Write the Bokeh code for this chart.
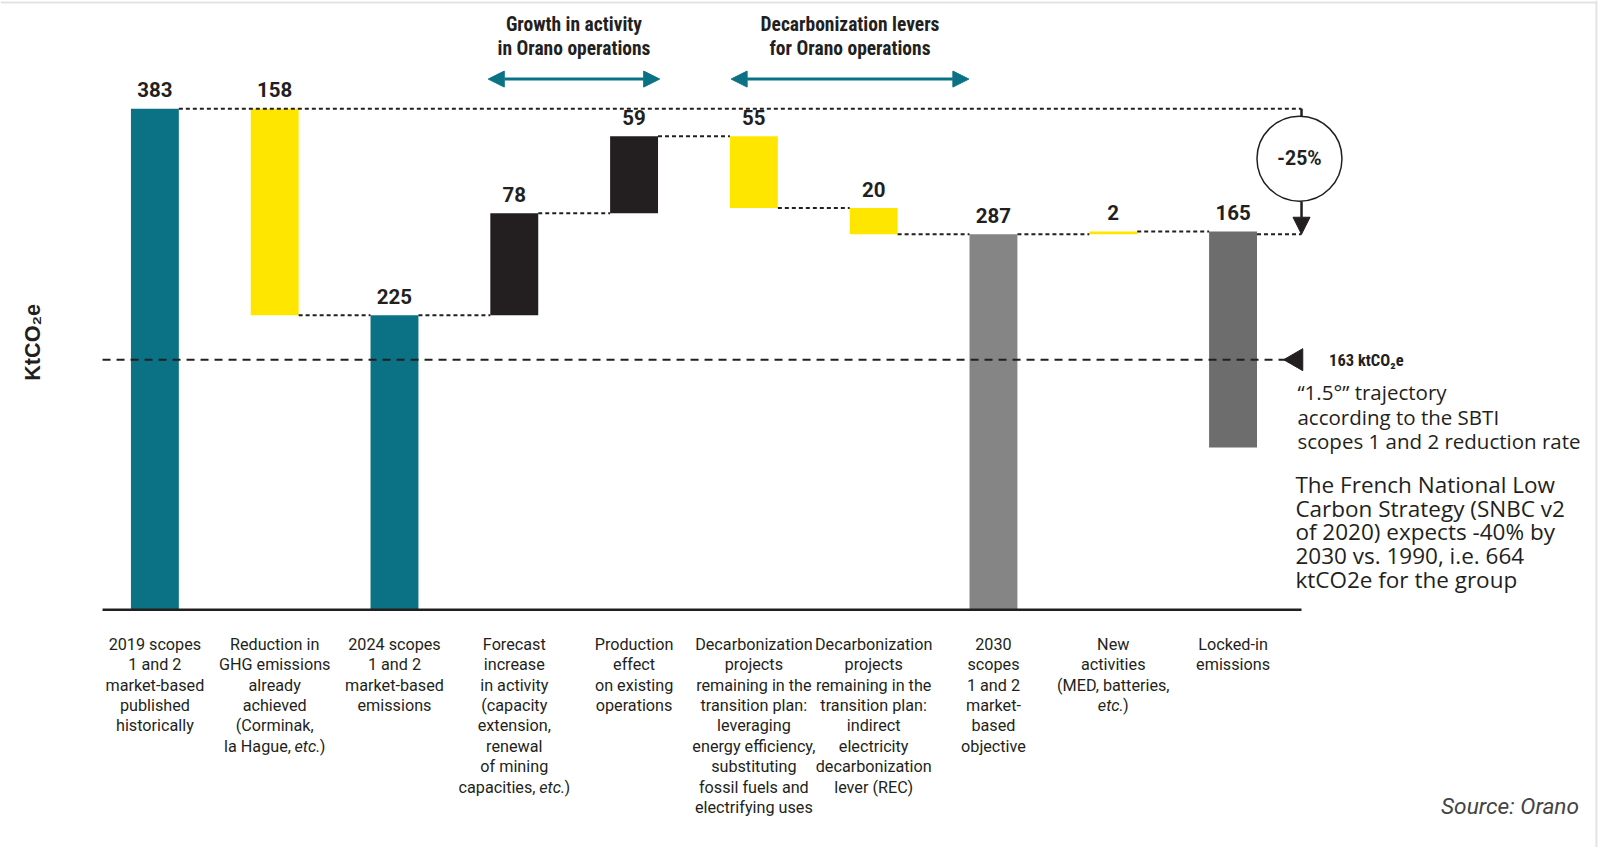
from bokeh.plotting import figure
from bokeh.models import Range1d, Arrow, NormalHead, ColumnDataSource
from bokeh.core.properties import value
from bokeh.embed import file_html
from bokeh.resources import INLINE
import math

# ---------------- data ----------------
categories = [
    "2019 scopes\n1 and 2\nmarket-based\npublished\nhistorically",
    "Reduction in\nGHG emissions\nalready\nachieved\n(Corminak,\nla Hague, etc.)",
    "2024 scopes\n1 and 2\nmarket-based\nemissions",
    "Forecast\nincrease\nin activity\n(capacity\nextension,\nrenewal\nof mining\ncapacities, etc.)",
    "Production\neffect\non existing\noperations",
    "Decarbonization\nprojects\nremaining in the\ntransition plan:\nleveraging\nenergy efficiency,\nsubstituting\nfossil fuels and\nelectrifying uses",
    "Decarbonization\nprojects\nremaining in the\ntransition plan:\nindirect\nelectricity\ndecarbonization\nlever (REC)",
    "2030\nscopes\n1 and 2\nmarket-\nbased\nobjective",
    "New\nactivities\n(MED, batteries,\netc.)",
    "Locked-in\nemissions",
]
values = [383, -158, 225, 78, 59, -55, -20, 287, 2, 165]
kinds = ["total", "delta", "total", "delta", "delta", "delta", "delta", "total", "delta", "locked"]
value_labels = ["383", "158", "225", "78", "59", "55", "20", "287", "2", "165"]
trajectory_label = "163 ktCO\u2082e"
reduction_label = "-25%"
group_titles = ["Growth in activity\nin Orano operations",
                "Decarbonization levers\nfor Orano operations"]
y_label = "KtCO\u2082e"
note_sbti = "\u201c1.5\u00b0\u201d trajectory\naccording to the SBTI\nscopes 1 and 2 reduction rate"
note_snbc = ("The French National Low\nCarbon Strategy (SNBC v2\nof 2020) expects -40% by\n"
             "2030 vs. 1990, i.e. 664\nktCO2e for the group")
source_text = "Source: Orano"

# ---------------- styles ----------------
TEAL = "#0b7286"
YELLOW = "#ffe600"
BLACK = "#231f20"
GREY = "#858585"
DARKGREY = "#6d6d6d"
bar_colors = [TEAL, YELLOW, TEAL, BLACK, BLACK, YELLOW, YELLOW, GREY, YELLOW, DARKGREY]
NARROW = value("'Liberation Sans Narrow', 'Roboto Condensed', Roboto")

FW, FH = 1600, 847
PS = 0.98                      # layout reference grid scale
X0, XS = 151.3, 117.4
Y0, YS = 597.0, 1.282
def X(px):
    return (px - X0) / XS
def Y(py):
    return (Y0 - py) / YS

# ---------------- waterfall geometry ----------------
bottoms, tops, ends = [], [], []
running = 0
for v, k in zip(values, kinds):
    if k == "total":
        b, t = 0, v
        running = v
    elif k == "delta":
        b, t = sorted([running, running + v])
        running = running + v
    else:  # locked-in part below current level
        b, t = running - v, running
    bottoms.append(b)
    tops.append(t)
    ends.append(running)

idx = list(range(len(values)))
W = 0.4

p = figure(width=FW, height=FH, output_backend="svg", toolbar_location=None,
           x_range=Range1d(X(0), X(FW * PS)), y_range=Range1d(Y(FH * PS), Y(0)),
           min_border=0, outline_line_color=None)
p.axis.visible = False
p.grid.visible = False
p.background_fill_color = "white"

src = ColumnDataSource(dict(x=idx, top=tops, bottom=bottoms, color=bar_colors,
                            lab=value_labels))
p.vbar(x="x", top="top", bottom="bottom", width=W, fill_color="color",
       line_color=None, source=src)

# connectors (dotted)
dot = dict(line_color=BLACK, line_width=2, line_dash="4 3")
p.segment(x0=[0 + W / 2], y0=[tops[0]], x1=[X(1275)], y1=[tops[0]], **dot)
cx0 = [1 + W / 2, 2 + W / 2]
cx1 = [2 - W / 2, 3 - W / 2]
cy0 = [ends[1], ends[2]]
for i in range(3, len(values) - 1):
    cx0.append(i + W / 2)
    cx1.append(i + 1 - W / 2)
    cy0.append(ends[i])
p.segment(x0=cx0, y0=cy0, x1=cx1, y1=cy0, **dot)
p.segment(x0=[len(values) - 1 + W / 2], y0=[values[7]], x1=[X(1275)], y1=[values[7]], **dot)

# value labels
p.text(x="x", y="top", text="lab", source=src, y_offset=-19,
       text_align="center", text_baseline="middle", text_font=value("Roboto"),
       text_font_style="bold", text_font_size="20.5px", text_color=BLACK)

# category labels, one text per line; "etc." in italics
CAT_FS = 16.2
CAT_LH = 20.4
ROBOTO_ADV = {"a": 1114, "b": 1120, "c": 1072, "e": 1081, "g": 1148, "i": 486, "l": 497,
              "p": 1147, "s": 1056, "t": 669, "u": 1126, "H": 1427, ",": 393, " ": 507,
              ".": 539, ")": 699}
def text_w(s, italic=False):
    w = sum(ROBOTO_ADV.get(ch, 1100) for ch in s) / 2048 * CAT_FS
    return w * (0.95 if italic else 1.0)

lx, lt, loff, lalign, lstyle, lxoff = [], [], [], [], [], []
for i, cat in enumerate(categories):
    for k, line in enumerate(cat.split("\n")):
        if "etc." in line:
            head, tail = line.split("etc.")
            pieces = [(head, "normal"), ("etc.", "italic"), (tail, "normal")]
            total = sum(text_w(s, st == "italic") for s, st in pieces)
            start = -total / 2
            for s, st in pieces:
                if s:
                    lx.append(i); lt.append(s); loff.append(k * CAT_LH)
                    lalign.append("left"); lstyle.append(st); lxoff.append(start)
                start += text_w(s, st == "italic")
        else:
            lx.append(i); lt.append(line); loff.append(k * CAT_LH)
            lalign.append("center"); lstyle.append("normal"); lxoff.append(0)
lsrc = ColumnDataSource(dict(x=lx, t=lt, yo=loff, al=lalign, st=lstyle, xo=lxoff))
p.text(x="x", y=Y(631), text="t", y_offset="yo", x_offset="xo", text_align="al",
       text_font_style="st", source=lsrc, text_baseline="alphabetic",
       text_font=value("Roboto"), text_font_size=f"{CAT_FS}px", text_color=BLACK)

# baseline axis
p.segment(x0=[X(100)], y0=[0], x1=[X(1275)], y1=[0], line_color=BLACK, line_width=2.5)

# trajectory dashed line + triangle
p.segment(x0=[X(100)], y0=[Y(352)], x1=[X(1262)], y1=[Y(352)], line_color=BLACK,
          line_width=2, line_dash="8 6")
p.scatter(x=[X(1270)], y=[Y(352)], marker="triangle", size=22, angle=math.pi / 2,
          fill_color=BLACK, line_color=BLACK)
p.text(x=[X(1302)], y=[Y(353)], text=[trajectory_label], text_align="left",
       text_baseline="alphabetic", text_font=NARROW,
       text_font_style="bold", text_font_size="16.5px", text_color=BLACK)
p.text(x=[X(1271)], y=[Y(370)], text=[note_sbti],
       text_align="left", text_baseline="top", text_font=value("Open Sans"),
       text_font_size="20.5px", text_line_height=0.875, text_color=BLACK)
p.text(x=[X(1269)], y=[Y(459)], text=[note_snbc],
       text_align="left", text_baseline="top", text_font=value("Open Sans"),
       text_font_size="22.5px", text_line_height=0.767, text_color=BLACK)

# -25% circle and arrow
p.segment(x0=[X(1275)], y0=[tops[0]], x1=[X(1275)], y1=[Y(114)], line_color=BLACK, line_width=2.5)
p.scatter(x=[X(1273)], y=[Y(155)], marker="circle", size=85, fill_color="white",
          line_color=BLACK, line_width=1.5)
p.text(x=[X(1273)], y=[Y(155)], text=[reduction_label], text_align="center",
       text_baseline="middle", text_font=value("Roboto"), text_font_style="bold",
       text_font_size="19.4px", text_color=BLACK)
p.add_layout(Arrow(end=NormalHead(size=17, fill_color=BLACK, line_color=BLACK),
                   x_start=X(1275), y_start=Y(197), x_end=X(1275), y_end=values[7],
                   line_color=BLACK, line_width=2.5))

# group arrows and titles
for (xa, xb), title in zip([(478, 646), (716, 949)], group_titles):
    p.add_layout(Arrow(start=NormalHead(size=16, fill_color=TEAL, line_color=TEAL),
                       end=NormalHead(size=16, fill_color=TEAL, line_color=TEAL),
                       x_start=X(xa), y_start=Y(77), x_end=X(xb), y_end=Y(77),
                       line_color=TEAL, line_width=3))
    tl = title.split("\n")
    p.text(x=[X((xa + xb) / 2)] * len(tl), y=[Y(24)] * len(tl), text=tl,
           y_offset=[k * 23.5 for k in range(len(tl))], text_align="center",
           text_baseline="alphabetic", text_font=NARROW, text_font_style="bold",
           text_font_size="19.5px", text_color=BLACK)

# y label
p.text(x=[X(31)], y=[Y(335)], text=[y_label], angle=math.pi / 2,
       text_align="center", text_baseline="middle", text_font=value("Liberation Sans"),
       text_font_style="bold", text_font_size="21.6px", text_color=BLACK)

# source
p.text(x=[X(1547)], y=[Y(790)], text=[source_text], text_align="right",
       text_baseline="middle", text_font=value("Roboto"), text_font_style="italic",
       text_font_size="22.7px", text_color="#444444")

# light frame lines
p.segment(x0=[X(1564)], y0=[Y(0)], x1=[X(1564)], y1=[Y(FH * PS)], line_color="#e3e3e3", line_width=2)
p.segment(x0=[X(0)], y0=[Y(2)], x1=[X(1564)], y1=[Y(2)], line_color="#e3e3e3", line_width=2)

open("out.html", "w").write(file_html(p, INLINE))
